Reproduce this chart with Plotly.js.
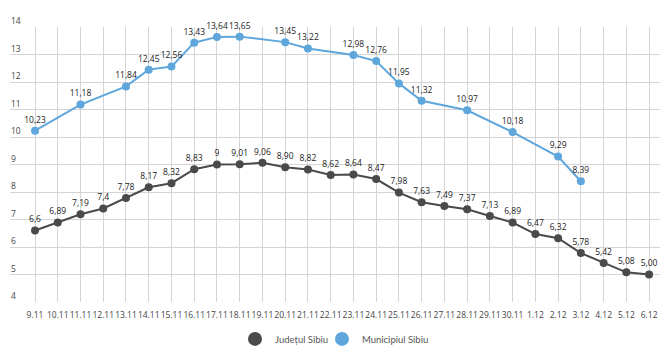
<!DOCTYPE html>
<html>
<head>
<meta charset="utf-8">
<script src="https://cdn.plot.ly/plotly-3.0.1.min.js"></script>
<style>html,body{margin:0;padding:0;background:#fff;}#chart{width:668px;height:356px;}</style>
</head>
<body>
<div id="chart"></div>
<script>
const categories = ["9.11","10.11","11.11","12.11","13.11","14.11","15.11","16.11","17.11","18.11","19.11","20.11","21.11","22.11","23.11","24.11","25.11","26.11","27.11","28.11","29.11","30.11","1.12","2.12","3.12","4.12","5.12","6.12"];

const judetValues = [6.6,6.89,7.19,7.4,7.78,8.17,8.32,8.83,9,9.01,9.06,8.90,8.82,8.62,8.64,8.47,7.98,7.63,7.49,7.37,7.13,6.89,6.47,6.32,5.78,5.42,5.08,5.00];
const judetLabels = ["6,6","6,89","7,19","7,4","7,78","8,17","8,32","8,83","9","9,01","9,06","8,90","8,82","8,62","8,64","8,47","7,98","7,63","7,49","7,37","7,13","6,89","6,47","6,32","5,78","5,42","5,08","5,00"];

const municipiuValues = [10.23,null,11.18,null,11.84,12.45,12.56,13.43,13.64,13.65,null,13.45,13.22,null,12.98,12.76,11.95,11.32,null,10.97,null,10.18,null,9.29,8.39,null,null,null];
const municipiuLabels = ["10,23","","11,18","","11,84","12,45","12,56","13,43","13,64","13,65","","13,45","13,22","","12,98","12,76","11,95","11,32","","10,97","","10,18","","9,29","8,39","","",""];

const seriesNames = ["Județul Sibiu","Municipiul Sibiu"];
const yTicks = [4,5,6,7,8,9,10,11,12,13,14];

const darkColor = "#4a4a4a";
const blueColor = "#5ea6dc";
const labelFont = {family: "Open Sans, sans-serif", size: 8.5, color: "#222"};
const tickFont = {family: "Open Sans, sans-serif", size: 8.5, color: "#444"};
const legendFont = {family: "Lato, sans-serif", size: 9.5, color: "#555"};

const traces = [
  {
    x: categories, y: judetValues, text: judetLabels, name: seriesNames[0],
    type: "scatter", mode: "lines+markers+text", textposition: "top center",
    textfont: labelFont, cliponaxis: false,
    line: {color: darkColor, width: 2}, marker: {color: darkColor, size: 8},
    showlegend: false
  },
  {
    x: categories, y: municipiuValues, text: municipiuLabels, name: seriesNames[1],
    type: "scatter", mode: "lines+markers+text", textposition: "top center",
    textfont: labelFont, cliponaxis: false, connectgaps: true,
    line: {color: blueColor, width: 2}, marker: {color: blueColor, size: 8},
    showlegend: false
  },
  {
    x: [categories[0]], y: [null], name: seriesNames[0], type: "scatter", mode: "markers",
    marker: {color: darkColor, size: 14}, showlegend: true, legend: "legend"
  },
  {
    x: [categories[0]], y: [null], name: seriesNames[1], type: "scatter", mode: "markers",
    marker: {color: blueColor, size: 14}, showlegend: true, legend: "legend2"
  }
];

const yLabelAnnotations = yTicks.map(v => ({
  xref: "paper", yref: "y", x: 0, y: v, xanchor: "left", yanchor: "bottom",
  text: String(v), showarrow: false, font: tickFont, borderpad: 0, yshift: 0
}));

const layout = {
  width: 668, height: 356,
  margin: {l: 10, r: 8, t: 27, b: 54, autoexpand: false},
  paper_bgcolor: "#fff", plot_bgcolor: "#fff",
  xaxis: {
    type: "category", range: [-1.1, 27.48], automargin: false,
    showgrid: true, gridcolor: "#d4d4d4", gridwidth: 1,
    zeroline: false, showline: false, ticks: "", ticklabelstandoff: 6,
    tickfont: tickFont, tickangle: 0, fixedrange: true
  },
  yaxis: {
    range: [4, 14], tickvals: yTicks, automargin: false,
    showgrid: true, gridcolor: "#d4d4d4", gridwidth: 1,
    zeroline: false, showline: false, ticks: "", showticklabels: false,
    fixedrange: true
  },
  annotations: yLabelAnnotations,
  showlegend: true,
  legend: {
    orientation: "h", x: 0.3518, xanchor: "left", xref: "container",
    y: 0.048, yanchor: "middle", yref: "container", font: legendFont,
    bgcolor: "rgba(0,0,0,0)"
  },
  legend2: {
    orientation: "h", x: 0.482, xanchor: "left", xref: "container",
    y: 0.048, yanchor: "middle", yref: "container", font: legendFont,
    bgcolor: "rgba(0,0,0,0)"
  }
};

Plotly.newPlot("chart", traces, layout, {displayModeBar: false, staticPlot: true});
</script>
</body>
</html>
